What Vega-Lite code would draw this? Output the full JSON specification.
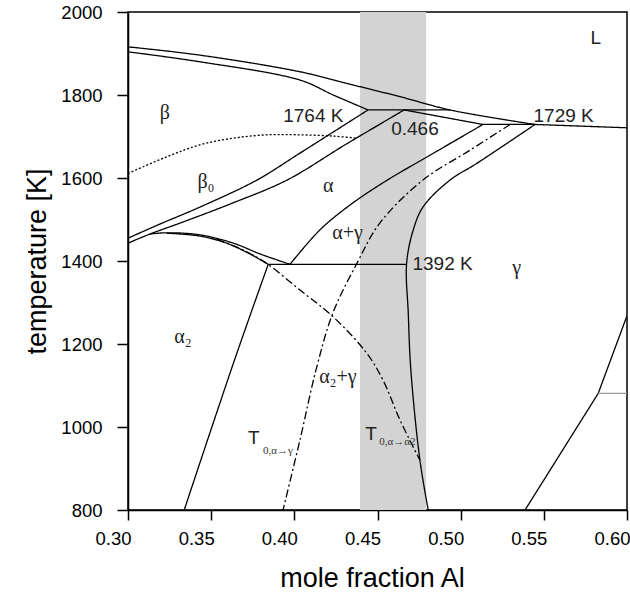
{
  "$schema": "https://vega.github.io/schema/vega-lite/v6.json",
  "autosize": {"type": "none"},
  "padding": {"left": 128, "top": 12, "right": 3, "bottom": 82},
  "width": 499,
  "height": 498,
  "background": "white",
  "config": {
    "view": {"stroke": "black", "strokeWidth": 1.5},
    "axis": {"grid": false, "domainColor": "black", "domainWidth": 1.5, "tickColor": "black", "tickWidth": 1.5, "labelColor": "black", "titleColor": "black", "labelFont": "Liberation Sans", "titleFont": "Liberation Sans", "titleFontWeight": "normal"}
  },
  "encoding": {
    "x": {"field": "x", "type": "quantitative", "scale": {"domain": [0.3, 0.6], "nice": false, "zero": false},
      "axis": {"title": "mole fraction Al", "values": [0.3, 0.35, 0.4, 0.45, 0.5, 0.55, 0.6], "format": ".2f", "tickSize": 10, "labelOffset": -15, "labelPadding": 9, "labelFontSize": 18.5, "titleFontSize": 27, "titleX": 244, "titleY": 76, "titleBaseline": "alphabetic", "labelFlush": false, "labelOverlap": false}},
    "y": {"field": "T", "type": "quantitative", "scale": {"domain": [800, 2000], "nice": false, "zero": false},
      "axis": {"title": "temperature [K]", "values": [800, 1000, 1200, 1400, 1600, 1800, 2000], "format": "d", "tickSize": 11, "labelPadding": 15, "labelFontSize": 18.5, "titleFontSize": 27, "titlePadding": 9, "labelFlush": false, "labelOverlap": false}}
  },
  "layer": [
    {
      "data": {"values": [{"x": 0.4395, "x2": 0.4792, "T": 800, "T2": 2000}]},
      "mark": {"type": "rect", "color": "#d3d3d3"},
      "encoding": {"x2": {"field": "x2"}, "y2": {"field": "T2"}}
    },
    {
      "data": {"values": [
        {"id": "liq1", "s": "solid", "o": 0, "x": 0.300, "T": 1916},
        {"id": "liq1", "s": "solid", "o": 1, "x": 0.3433, "T": 1896},
        {"id": "liq1", "s": "solid", "o": 2, "x": 0.4034, "T": 1856},
        {"id": "liq1", "s": "solid", "o": 3, "x": 0.4335, "T": 1826},
        {"id": "liq1", "s": "solid", "o": 4, "x": 0.4635, "T": 1796},
        {"id": "liq1", "s": "solid", "o": 5, "x": 0.4936, "T": 1764},
        {"id": "liq1", "s": "solid", "o": 6, "x": 0.5447, "T": 1729},
        {"id": "liq2", "s": "solid", "o": 0, "x": 0.5447, "T": 1729},
        {"id": "liq2", "s": "solid", "o": 1, "x": 0.600, "T": 1721},
        {"id": "solb", "s": "solid", "o": 0, "x": 0.300, "T": 1904},
        {"id": "solb", "s": "solid", "o": 1, "x": 0.3433, "T": 1880},
        {"id": "solb", "s": "solid", "o": 2, "x": 0.4034, "T": 1836},
        {"id": "solb", "s": "solid", "o": 3, "x": 0.4234, "T": 1800},
        {"id": "solb", "s": "solid", "o": 4, "x": 0.4443, "T": 1764},
        {"id": "h1764", "s": "solid", "o": 0, "x": 0.4443, "T": 1764},
        {"id": "h1764", "s": "solid", "o": 1, "x": 0.4936, "T": 1764},
        {"id": "sola", "s": "solid", "o": 0, "x": 0.466, "T": 1764},
        {"id": "sola", "s": "solid", "o": 1, "x": 0.5134, "T": 1729},
        {"id": "h1729", "s": "solid", "o": 0, "x": 0.5134, "T": 1729},
        {"id": "h1729", "s": "solid", "o": 1, "x": 0.5447, "T": 1729},
        {"id": "F1", "s": "solid", "o": 0, "x": 0.4443, "T": 1764},
        {"id": "F1", "s": "solid", "o": 1, "x": 0.4034, "T": 1660},
        {"id": "F1", "s": "solid", "o": 2, "x": 0.3775, "T": 1595},
        {"id": "F1", "s": "solid", "o": 3, "x": 0.3433, "T": 1530},
        {"id": "F1", "s": "solid", "o": 4, "x": 0.3192, "T": 1489},
        {"id": "F1", "s": "solid", "o": 5, "x": 0.300, "T": 1455},
        {"id": "F2", "s": "solid", "o": 0, "x": 0.466, "T": 1764},
        {"id": "F2", "s": "solid", "o": 1, "x": 0.4305, "T": 1680},
        {"id": "F2", "s": "solid", "o": 2, "x": 0.3956, "T": 1595},
        {"id": "F2", "s": "solid", "o": 3, "x": 0.3631, "T": 1540},
        {"id": "F2", "s": "solid", "o": 4, "x": 0.3331, "T": 1494},
        {"id": "F2", "s": "solid", "o": 5, "x": 0.3132, "T": 1465},
        {"id": "F2", "s": "solid", "o": 6, "x": 0.300, "T": 1443},
        {"id": "G1", "s": "solid", "o": 0, "x": 0.3132, "T": 1465},
        {"id": "G1", "s": "solid", "o": 1, "x": 0.3233, "T": 1468},
        {"id": "G1", "s": "solid", "o": 2, "x": 0.3433, "T": 1463},
        {"id": "G1", "s": "solid", "o": 3, "x": 0.3633, "T": 1443},
        {"id": "G1", "s": "solid", "o": 4, "x": 0.3794, "T": 1417},
        {"id": "G1", "s": "solid", "o": 5, "x": 0.3974, "T": 1392},
        {"id": "G2", "s": "solid", "o": 0, "x": 0.3233, "T": 1467},
        {"id": "G2", "s": "solid", "o": 1, "x": 0.3433, "T": 1460},
        {"id": "G2", "s": "solid", "o": 2, "x": 0.3593, "T": 1443},
        {"id": "G2", "s": "solid", "o": 3, "x": 0.3733, "T": 1417},
        {"id": "G2", "s": "solid", "o": 4, "x": 0.3843, "T": 1392},
        {"id": "h1392", "s": "solid", "o": 0, "x": 0.3843, "T": 1392},
        {"id": "h1392", "s": "solid", "o": 1, "x": 0.4675, "T": 1392},
        {"id": "H", "s": "solid", "o": 0, "x": 0.3974, "T": 1392},
        {"id": "H", "s": "solid", "o": 1, "x": 0.4154, "T": 1475},
        {"id": "H", "s": "solid", "o": 2, "x": 0.4335, "T": 1535},
        {"id": "H", "s": "solid", "o": 3, "x": 0.4551, "T": 1593},
        {"id": "H", "s": "solid", "o": 4, "x": 0.4816, "T": 1655},
        {"id": "H", "s": "solid", "o": 5, "x": 0.5134, "T": 1729},
        {"id": "I", "s": "dashdot", "o": 0, "x": 0.5297, "T": 1729},
        {"id": "I", "s": "dashdot", "o": 1, "x": 0.5056, "T": 1667},
        {"id": "I", "s": "dashdot", "o": 2, "x": 0.4773, "T": 1595},
        {"id": "I", "s": "dashdot", "o": 3, "x": 0.4515, "T": 1492},
        {"id": "I", "s": "dashdot", "o": 4, "x": 0.4377, "T": 1395},
        {"id": "I", "s": "dashdot", "o": 5, "x": 0.4232, "T": 1275},
        {"id": "I", "s": "dashdot", "o": 6, "x": 0.4130, "T": 1137},
        {"id": "I", "s": "dashdot", "o": 7, "x": 0.4034, "T": 969},
        {"id": "I", "s": "dashdot", "o": 8, "x": 0.3932, "T": 800},
        {"id": "J", "s": "dashdot", "o": 0, "x": 0.3533, "T": 1452},
        {"id": "J", "s": "dashdot", "o": 1, "x": 0.3700, "T": 1425},
        {"id": "J", "s": "dashdot", "o": 2, "x": 0.3834, "T": 1394},
        {"id": "J", "s": "dashdot", "o": 3, "x": 0.4034, "T": 1330},
        {"id": "J", "s": "dashdot", "o": 4, "x": 0.4232, "T": 1266},
        {"id": "J", "s": "dashdot", "o": 5, "x": 0.4435, "T": 1178},
        {"id": "J", "s": "dashdot", "o": 6, "x": 0.4533, "T": 1113},
        {"id": "J", "s": "dashdot", "o": 7, "x": 0.4635, "T": 1017},
        {"id": "J", "s": "dashdot", "o": 8, "x": 0.4755, "T": 920},
        {"id": "K", "s": "solid", "o": 0, "x": 0.5447, "T": 1729},
        {"id": "K", "s": "solid", "o": 1, "x": 0.5096, "T": 1635},
        {"id": "K", "s": "solid", "o": 2, "x": 0.4936, "T": 1595},
        {"id": "K", "s": "solid", "o": 3, "x": 0.4775, "T": 1531},
        {"id": "K", "s": "solid", "o": 4, "x": 0.4715, "T": 1475},
        {"id": "K", "s": "solid", "o": 5, "x": 0.4675, "T": 1394},
        {"id": "K", "s": "solid", "o": 6, "x": 0.4685, "T": 1274},
        {"id": "K", "s": "solid", "o": 7, "x": 0.4700, "T": 1140},
        {"id": "K", "s": "solid", "o": 8, "x": 0.4755, "T": 920},
        {"id": "K", "s": "solid", "o": 9, "x": 0.4805, "T": 800},
        {"id": "L", "s": "solid", "o": 0, "x": 0.3843, "T": 1392},
        {"id": "L", "s": "solid", "o": 1, "x": 0.3640, "T": 1161},
        {"id": "L", "s": "solid", "o": 2, "x": 0.3338, "T": 800},
        {"id": "M1", "s": "solid", "o": 0, "x": 0.5998, "T": 1266},
        {"id": "M1", "s": "solid", "o": 1, "x": 0.5827, "T": 1081},
        {"id": "M2", "s": "solid", "o": 0, "x": 0.5827, "T": 1081},
        {"id": "M2", "s": "solid", "o": 1, "x": 0.5387, "T": 800},
        {"id": "gh", "s": "gray", "o": 0, "x": 0.5827, "T": 1081},
        {"id": "gh", "s": "gray", "o": 1, "x": 0.600, "T": 1081},
        {"id": "N", "s": "dotted", "o": 0, "x": 0.300, "T": 1611},
        {"id": "N", "s": "dotted", "o": 1, "x": 0.3233, "T": 1651},
        {"id": "N", "s": "dotted", "o": 2, "x": 0.3433, "T": 1680},
        {"id": "N", "s": "dotted", "o": 3, "x": 0.3633, "T": 1696},
        {"id": "N", "s": "dotted", "o": 4, "x": 0.3834, "T": 1704},
        {"id": "N", "s": "dotted", "o": 5, "x": 0.4034, "T": 1704},
        {"id": "N", "s": "dotted", "o": 6, "x": 0.4234, "T": 1701},
        {"id": "N", "s": "dotted", "o": 7, "x": 0.4375, "T": 1696}
      ]},
      "mark": {"type": "line", "interpolate": "catmull-rom", "strokeWidth": 1.3},
      "encoding": {
        "detail": {"field": "id"},
        "order": {"field": "o", "type": "quantitative"},
        "color": {"field": "s", "type": "nominal", "scale": {"domain": ["solid", "dotted", "dashdot", "gray"], "range": ["black", "black", "black", "#9a9a9a"]}, "legend": null},
        "strokeDash": {"field": "s", "type": "nominal", "scale": {"domain": ["solid", "dotted", "dashdot", "gray"], "range": [[1, 0], [2, 2], [8, 3, 2, 3], [1, 0]]}, "legend": null}
      }
    },
    {
      "data": {"values": [
        {"x": 0.5813, "T": 1937, "label": "L"},
        {"x": 0.4114, "T": 1750, "label": "1764 K"},
        {"x": 0.4725, "T": 1718, "label": "0.466"},
        {"x": 0.5619, "T": 1750, "label": "1729 K"},
        {"x": 0.4891, "T": 1393, "label": "1392 K"},
        {"x": 0.3757, "T": 973, "label": "T"},
        {"x": 0.4461, "T": 984, "label": "T"}
      ]},
      "mark": {"type": "text", "font": "Liberation Sans", "fontSize": 19, "color": "#222", "align": "center", "baseline": "middle"},
      "encoding": {"text": {"field": "label"}}
    },
    {
      "data": {"values": [
        {"x": 0.3222, "T": 1756, "label": "β"},
        {"x": 0.3469, "T": 1590, "label": "β₀"},
        {"x": 0.4204, "T": 1581, "label": "α"},
        {"x": 0.4320, "T": 1467, "label": "α+γ"},
        {"x": 0.5337, "T": 1383, "label": "γ"},
        {"x": 0.3331, "T": 1217, "label": "α₂"},
        {"x": 0.4262, "T": 1121, "label": "α₂+γ"}
      ]},
      "mark": {"type": "text", "font": "Liberation Serif, DejaVu Serif", "fontSize": 20, "color": "#222", "align": "center", "baseline": "middle"},
      "encoding": {"text": {"field": "label"}}
    },
    {
      "data": {"values": [
        {"x": 0.3812, "T": 943, "label": "0,α→γ"},
        {"x": 0.4511, "T": 963, "label": "0,α→α2"}
      ]},
      "mark": {"type": "text", "font": "Liberation Serif, DejaVu Serif", "fontSize": 11, "color": "#333", "align": "left", "baseline": "middle"},
      "encoding": {"text": {"field": "label"}}
    }
  ]
}
